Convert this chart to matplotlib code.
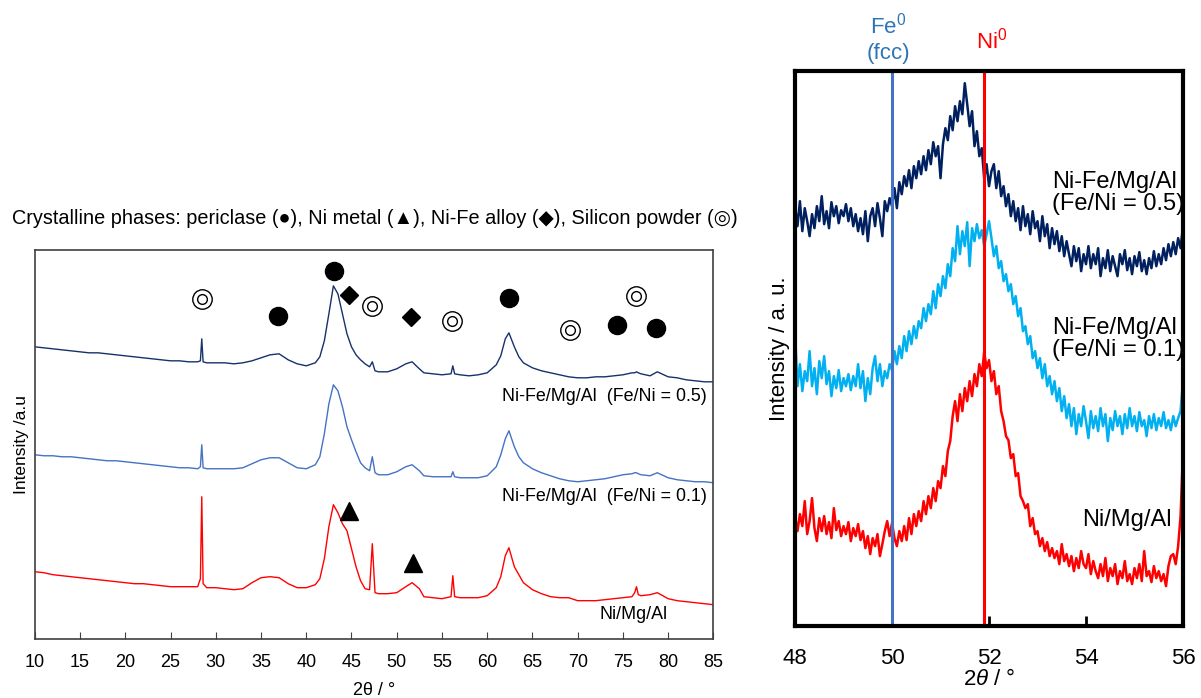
import numpy as np
import matplotlib
matplotlib.use("Agg")
import matplotlib.pyplot as plt
from matplotlib.transforms import blended_transform_factory

plt.rcParams['font.family'] = ['Liberation Sans', 'DejaVu Sans']
plt.rcParams['mathtext.fontset'] = 'custom'
plt.rcParams['mathtext.rm'] = 'Liberation Sans'
plt.rcParams['mathtext.it'] = 'Liberation Sans:italic'

# ---- wide scan, 2theta 10-85 (intensity in arbitrary offset units) ----
tt_wide = [10, 11, 12, 13, 14, 15, 16, 17, 18, 19, 20, 21, 22, 23, 24, 25, 26, 27,
           28.0, 28.3, 28.45, 28.6, 29, 30, 31, 32, 33, 34, 35, 36, 37, 38, 39, 40, 41,
           41.5, 42, 42.5, 43, 43.5, 44, 44.5, 45, 45.5, 46, 46.5, 47.0, 47.3, 47.6,
           48, 49, 50, 51, 51.7, 52.5, 53, 54, 55, 56.0, 56.2, 56.4, 57, 58, 59, 60, 61,
           61.5, 62, 62.4, 63, 63.5, 64, 65, 66, 67, 68, 69, 70, 71, 72, 73, 74, 75, 76,
           76.3, 76.5, 76.7, 77, 78, 78.8, 80, 81, 82, 83, 84, 85]

fe05_wide = [292, 291, 290, 289, 288, 287, 286, 286, 285, 284, 283, 282, 281, 280, 279, 278, 278, 277,
             277, 278, 300, 277, 276, 276, 276, 275, 276, 278, 281, 284, 285, 279, 275, 273, 276,
             282, 298, 325, 353, 345, 325, 305, 292, 284, 279, 275, 272, 277, 268,
             267, 267, 270, 275, 277, 270, 266, 265, 264, 265, 273, 265, 264, 263, 264, 266, 274,
             283, 300, 306, 292, 282, 276, 271, 268, 266, 264, 262, 261, 261, 262, 262, 263, 264, 266,
             266, 267, 266, 265, 263, 267, 262, 261, 259, 258, 257, 257]

fe01_wide = [184, 183, 183, 182, 182, 181, 180, 179, 178, 178, 177, 176, 175, 174, 173, 172, 171, 171,
             170, 172, 194, 171, 170, 170, 170, 170, 171, 175, 179, 181, 181, 176, 171, 170, 174,
             182, 205, 235, 254, 248, 232, 212, 199, 187, 176, 171, 168, 182, 166,
             164, 164, 167, 172, 174, 168, 163, 162, 162, 162, 167, 162, 161, 161, 161, 163, 172,
             184, 200, 208, 192, 182, 176, 170, 166, 163, 160, 158, 157, 158, 159, 160, 162, 164, 165,
             166, 166, 165, 164, 163, 166, 161, 159, 158, 157, 157, 156]

ni_wide = [67, 66, 64, 63, 62, 61, 60, 59, 58, 57, 56, 55, 55, 54, 53, 52, 52, 52,
           52, 60, 142, 55, 51, 51, 50, 49, 50, 56, 61, 62, 61, 55, 51, 51, 54,
           60, 80, 112, 134, 126, 115, 108, 90, 72, 58, 50, 49, 95, 46,
           45, 45, 46, 52, 56, 50, 42, 41, 40, 42, 63, 42, 41, 41, 41, 43, 51,
           62, 83, 91, 72, 64, 56, 49, 45, 42, 41, 41, 38, 38, 38, 39, 40, 41, 42,
           46, 52, 44, 43, 44, 46, 40, 38, 37, 36, 35, 34]

# phase markers on the wide scan
periclase_x = [36.9, 43.1, 62.4, 74.4, 78.7]
periclase_y = [323, 368, 341, 314, 311]
nimetal_x = [44.7, 51.8]
nimetal_y = [128, 76]
alloy_x = [44.7, 51.6]
alloy_y = [344, 322]
silicon_x = [28.5, 47.3, 56.1, 69.2, 76.4]
silicon_y = [340, 333, 318, 309, 343]

# ---- narrow scan, 2theta 48-56, 0.05 deg step ----
tt_narrow = np.arange(48.0, 56.0001, 0.05)

fe05_narrow = [420, 400, 425, 395, 418, 405, 390, 412, 398, 420, 405, 430, 402, 415, 398, 424, 410, 420, 403, 416,
               410, 422, 405, 418, 400, 412, 395, 408, 392, 415, 385, 410, 418, 400, 423, 408, 390, 425, 415, 428,
               420, 438, 418, 444, 432, 450, 440, 456, 438, 460, 448, 465, 452, 470, 456, 476, 462, 484, 470, 480,
               448, 482, 498, 486, 510, 496, 520, 505, 525, 512, 543, 522, 500, 515, 480, 495, 470, 478, 448, 462,
               440, 455, 462, 438, 455, 430, 440, 420, 432, 410, 425, 405, 418, 396, 420, 400, 412, 392, 415, 398,
               405, 385, 410, 390, 402, 378, 398, 382, 395, 375, 390, 370, 385, 372, 360, 380, 365, 378, 355, 372,
               362, 380, 358, 372, 362, 378, 350, 368, 358, 376, 355, 370, 360, 350, 372, 362, 376, 356, 368, 352,
               370, 360, 374, 355, 366, 352, 368, 358, 375, 360, 372, 362, 378, 366, 382, 370, 384, 372, 388, 378,
               400]

fe01_narrow = [293, 240, 262, 235, 255, 245, 275, 240, 258, 232, 265, 248, 270, 242, 255, 230, 250, 238, 256, 235,
               248, 240, 252, 236, 250, 240, 262, 238, 255, 225, 248, 232, 258, 270, 245, 262, 240, 255, 248, 262,
               256, 275, 262, 280, 268, 290, 275, 295, 282, 300, 288, 305, 298, 318, 305, 322, 312, 335, 318, 342,
               330, 350, 338, 362, 350, 378, 365, 400, 372, 395, 380, 404, 360, 398, 385, 402, 388, 396, 380, 392,
               405, 388, 370, 380, 358, 365, 345, 352, 335, 342, 322, 330, 310, 318, 295, 300, 282, 290, 268, 275,
               258, 268, 248, 262, 240, 250, 232, 245, 225, 238, 215, 230, 208, 222, 200, 218, 192, 212, 200, 220,
               205, 188, 215, 198, 210, 195, 218, 200, 212, 185, 208, 196, 215, 200, 210, 192, 212, 198, 218, 200,
               210, 195, 214, 200, 206, 190, 210, 198, 212, 196, 208, 200, 214, 198, 206, 196, 210, 200, 208, 215,
               245]

ni_narrow = [109, 95, 112, 100, 125, 92, 105, 128, 98, 85, 108, 95, 110, 92, 104, 88, 118, 96, 105, 90,
             100, 92, 104, 85, 98, 90, 102, 86, 95, 78, 90, 72, 88, 80, 92, 70, 82, 95, 105, 90,
             103, 88, 80, 95, 85, 100, 86, 108, 92, 112, 100, 115, 105, 125, 112, 130, 118, 138, 125, 145,
             138, 160, 150, 175, 185, 210, 225, 205, 232, 215, 238, 225, 245, 230, 252, 240, 262, 250, 274, 258,
             266, 245, 255, 232, 240, 215, 205, 190, 186, 168, 172, 150, 153, 130, 125, 118, 122, 100, 108, 92,
             95, 80, 88, 75, 84, 70, 78, 68, 75, 62, 82, 65, 72, 60, 70, 55, 68, 58, 75, 62,
             58, 72, 52, 65, 55, 48, 62, 50, 68, 45, 58, 50, 62, 42, 55, 48, 65, 45, 52, 42,
             58, 48, 62, 45, 75, 50, 55, 44, 60, 48, 55, 45, 52, 40, 60, 70, 72, 62, 80, 110,
             175]

fe_fcc_pos = 50.0
ni_pos = 51.9

fig = plt.figure(figsize=(12.01, 6.98), dpi=100)

# ---------------- left panel ----------------
ax1 = fig.add_axes([0.029, 0.085, 0.565, 0.557])
ax1.plot(tt_wide, fe05_wide, color='#17316B', lw=1.0)
ax1.plot(tt_wide, fe01_wide, color='#4472C4', lw=1.0)
ax1.plot(tt_wide, ni_wide, color='#FF0000', lw=1.0)

ax1.plot(periclase_x, periclase_y, 'o', color='black', ms=13, ls='none')
ax1.plot(nimetal_x, nimetal_y, '^', color='black', ms=13, ls='none')
ax1.plot(alloy_x, alloy_y, 'D', color='black', ms=9, ls='none')
ax1.plot(silicon_x, silicon_y, 'o', mfc='white', mec='black', mew=1.0, ms=14, ls='none')
ax1.plot(silicon_x, silicon_y, 'o', mfc='white', mec='black', mew=1.0, ms=7, ls='none')

ax1.text(84.3, 242, 'Ni-Fe/Mg/Al  (Fe/Ni = 0.5)', ha='right', va='center', fontsize=12.9)
ax1.text(84.3, 142, 'Ni-Fe/Mg/Al  (Fe/Ni = 0.1)', ha='right', va='center', fontsize=12.9)
ax1.text(79.9, 24, 'Ni/Mg/Al', ha='right', va='center', fontsize=12.9)

ax1.set_xlim(10, 85)
ax1.set_ylim(0, 389)
ax1.set_xticks(np.arange(10, 86, 5))
ax1.set_yticks([])
ax1.tick_params(axis='x', direction='in', length=5, labelsize=13, pad=11, color='#404040')
ax1.set_xlabel('2θ / °', fontsize=13, labelpad=8)
ax1.set_ylabel('Intensity /a.u', fontsize=12.5, labelpad=4)
for s in ax1.spines.values():
    s.set_color('#404040')
    s.set_linewidth(1.2)

fig.text(0.010, 0.687,
         'Crystalline phases: periclase (●), Ni metal (▲), Ni-Fe alloy (◆), Silicon powder (◎)',
         fontsize=14.3, ha='left', va='center')

# ---------------- right panel ----------------
ax2 = fig.add_axes([0.662, 0.103, 0.323, 0.795])
ax2.plot(tt_narrow, fe05_narrow, color='#002060', lw=1.8)
ax2.plot(tt_narrow, fe01_narrow, color='#00B0F0', lw=1.8)
ax2.plot(tt_narrow, ni_narrow, color='#FF0000', lw=1.8)
ax2.axvline(fe_fcc_pos, color='#4472C4', lw=2.2)
ax2.axvline(ni_pos, color='#FF0000', lw=2.2)

ax2.text(53.3, 433, 'Ni-Fe/Mg/Al\n(Fe/Ni = 0.5)', ha='left', va='center', fontsize=17,
         linespacing=1.0, clip_on=True)
ax2.text(53.3, 287, 'Ni-Fe/Mg/Al\n(Fe/Ni = 0.1)', ha='left', va='center', fontsize=17,
         linespacing=1.0, clip_on=True)
ax2.text(53.92, 106, 'Ni/Mg/Al', ha='left', va='center', fontsize=17)

trans = blended_transform_factory(ax2.transData, ax2.transAxes)
ax2.text(49.92, 1.083, r'Fe$^{0}$', transform=trans, ha='center', va='center',
         fontsize=16, color='#2E75B6')
ax2.text(49.92, 1.032, '(fcc)', transform=trans, ha='center', va='center',
         fontsize=16, color='#2E75B6')
ax2.text(52.06, 1.056, r'Ni$^{0}$', transform=trans, ha='center', va='center',
         fontsize=16, color='#FF0000')

ax2.set_xlim(48, 56)
ax2.set_ylim(0, 555)
ax2.set_xticks(np.arange(48, 57, 2))
ax2.set_yticks([])
ax2.tick_params(axis='x', direction='in', length=7, width=2, labelsize=16, pad=16)
ax2.set_xlabel(r'2$\it{\theta}$ / °', fontsize=16, labelpad=0)
ax2.set_ylabel('Intensity / a. u.', fontsize=16, labelpad=4)
for s in ax2.spines.values():
    s.set_color('black')
    s.set_linewidth(3)

fig.savefig('out.png', dpi=100)
